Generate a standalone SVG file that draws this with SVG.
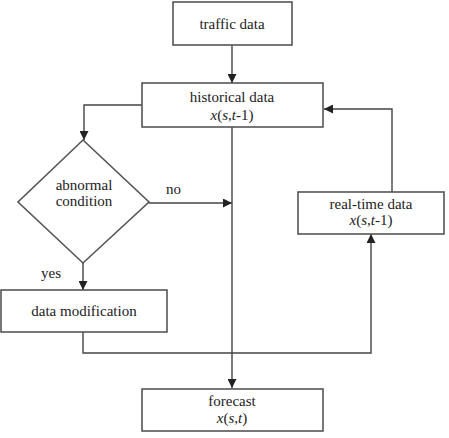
<svg xmlns="http://www.w3.org/2000/svg" width="449" height="438" viewBox="0 0 449 438">
<defs>
<marker id="arr" viewBox="0 0 10 10" refX="10" refY="5" markerWidth="9" markerHeight="9" markerUnits="userSpaceOnUse" orient="auto">
<path d="M0,0 L10,5 L0,10 z" fill="#222"/>
</marker>
<style>
.box{fill:#fff;stroke:#555;stroke-width:1.6}
.ln{fill:none;stroke:#444;stroke-width:1.4}
.i{font-style:italic}
</style>
</defs>
<rect width="449" height="438" fill="#fff"/>
<g font-family="Liberation Serif, Times New Roman, Times, DejaVu Serif, serif" font-size="15" fill="#222" text-anchor="middle">
<g id="connectors">
<path class="ln" d="M232,45 V83" marker-end="url(#arr)"/>
<path class="ln" d="M142,105 H84 V140" marker-end="url(#arr)"/>
<path class="ln" d="M149,203 H232" marker-end="url(#arr)"/>
<path class="ln" d="M83,263 V290" marker-end="url(#arr)"/>
<path class="ln" d="M232,127 V388" marker-end="url(#arr)"/>
<path class="ln" d="M83,332 V353 H371 V234" marker-end="url(#arr)"/>
<path class="ln" d="M392,192 V109 H324" marker-end="url(#arr)"/>
<text x="166" y="194" text-anchor="start">no</text>
<text x="41" y="278" text-anchor="start">yes</text>
</g>
<g id="traffic">
<rect class="box" x="173" y="2" width="119" height="43"/>
<text x="232" y="29">traffic data</text>
</g>
<g id="historical">
<rect class="box" x="142" y="83" width="181" height="44"/>
<text x="232" y="102">historical data</text>
<text x="232" y="120"><tspan class="i">x</tspan>(<tspan class="i">s</tspan>,<tspan class="i">t</tspan>-1)</text>
</g>
<g id="abnormal">
<polygon class="box" points="83,140 149,202 83,263 18,202"/>
<text x="84" y="190">abnormal</text>
<text x="84" y="206">condition</text>
</g>
<g id="modification">
<rect class="box" x="1" y="290" width="166" height="42"/>
<text x="84" y="316">data modification</text>
</g>
<g id="realtime">
<rect class="box" x="298" y="192" width="146" height="42"/>
<text x="371" y="209">real-time data</text>
<text x="371" y="225"><tspan class="i">x</tspan>(<tspan class="i">s</tspan>,<tspan class="i">t</tspan>-1)</text>
</g>
<g id="forecast">
<rect class="box" x="142" y="389" width="181" height="42"/>
<text x="232" y="406">forecast</text>
<text x="232" y="423"><tspan class="i">x</tspan>(<tspan class="i">s</tspan>,<tspan class="i">t</tspan>)</text>
</g>
</g>
</svg>
